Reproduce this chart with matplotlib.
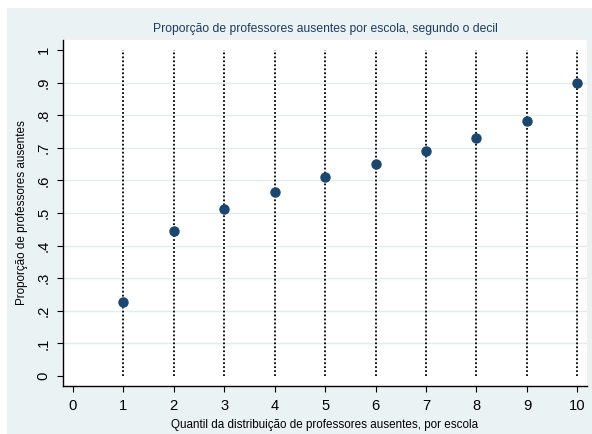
import numpy as np
import matplotlib
matplotlib.use("Agg")
import matplotlib.pyplot as plt
from matplotlib.patches import Rectangle

# decis and average share of absent teachers
decil = [1, 2, 3, 4, 5, 6, 7, 8, 9, 10]
proporcao = [0.228, 0.446, 0.513, 0.564, 0.610, 0.651, 0.689, 0.730, 0.783, 0.899]
x_ticks = [0, 1, 2, 3, 4, 5, 6, 7, 8, 9, 10]
y_ticks = [0, 0.1, 0.2, 0.3, 0.4, 0.5, 0.6, 0.7, 0.8, 0.9, 1.0]
y_labels = ["0", ".1", ".2", ".3", ".4", ".5", ".6", ".7", ".8", ".9", "1"]

plt.rcParams['font.family'] = ['Liberation Sans', 'DejaVu Sans']

bg = "#EAF2F3"
navy = "#1A476F"

fig = plt.figure(figsize=(5.92, 4.34), dpi=100, facecolor="white")
fig.patches.append(Rectangle((7/592, 0), 1, 1 - 8/434, transform=fig.transFigure,
                             facecolor=bg, edgecolor="none", zorder=-10))

ax = fig.add_axes([63/592, 48/434, 524/592, 346/434])
ax.set_facecolor("white")

# horizontal grid
for yv in y_ticks[1:-1]:
    ax.axhline(yv, color="#E3ECEE", lw=1.0, zorder=0)

# dotted droplines
ax.vlines(decil, 0, 1, colors="black", linestyles=(0, (1, 1.2)), lw=1.3, zorder=1)
ax.plot(decil, proporcao, "o", color=navy, markersize=6.5, zorder=3)

ax.set_xlim(-0.192, 10.19)
ax.set_ylim(-0.0307, 1.0307)
ax.set_xticks(x_ticks)
ax.set_yticks(y_ticks)
ax.set_yticklabels(y_labels, rotation=90, va="center")
ax.tick_params(axis="both", direction="out", length=4, width=0.8, labelsize=10.6, colors="black")
ax.tick_params(axis="x", pad=5)
ax.tick_params(axis="y", pad=5)

for side in ["top", "right"]:
    ax.spines[side].set_visible(False)
for side in ["left", "bottom"]:
    ax.spines[side].set_linewidth(1.0)
    ax.spines[side].set_color("black")

ax.set_xlabel("Quantil da distribuição de professores ausentes, por escola", fontsize=8.4, labelpad=5)
ax.set_ylabel("Proporção de professores ausentes", fontsize=8.4, labelpad=6)
ax.set_title("Proporção de professores ausentes por escola, segundo o decil",
             fontsize=8.7, color="#1E3A5F", pad=6)

fig.savefig("out.png", dpi=100, facecolor=fig.get_facecolor())
